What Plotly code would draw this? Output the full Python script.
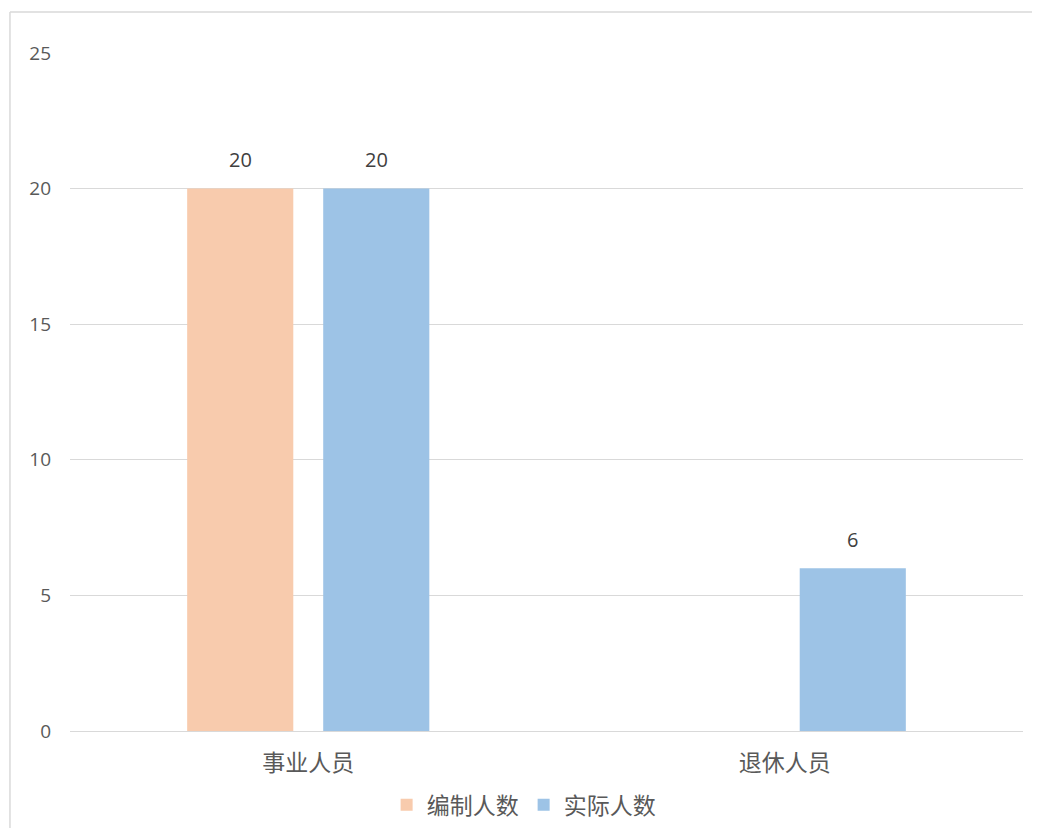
import plotly.graph_objects as go

categories = ["事业人员", "退休人员"]
series_names = ["编制人数", "实际人数"]
bianzhi = [20, None]
shiji = [20, 6]
y_ticks = [0, 5, 10, 15, 20, 25]

colors = ["#F8CBAD", "#9DC3E6"]
font_num = "Open Sans, Noto Sans, sans-serif"
font_cjk = "Noto Sans CJK SC, Noto Sans, sans-serif"

fig = go.Figure()
annotations = []
offsets = [-68, 68]
for name, vals, col, off in zip(series_names, [bianzhi, shiji], colors, offsets):
    fig.add_trace(go.Bar(
        x=categories, y=vals, name=name,
        marker=dict(color=col, line=dict(width=0)),
    ))
    for c, v in zip(categories, vals):
        if v is None:
            continue
        annotations.append(dict(x=c, y=v, xref="x", yref="y", text=str(v), showarrow=False,
                                xshift=off, yshift=29, yanchor="middle",
                                font=dict(family=font_num, size=20, color="#404040")))

border = dict(color="#D9D9D9", width=1.5)
fig.update_layout(
    width=1024, height=820,
    paper_bgcolor="white", plot_bgcolor="white",
    margin=dict(l=62, r=9, t=45, b=97, autoexpand=False),
    barmode="group", bargap=0.429, bargroupgap=0.22,
    showlegend=True,
    legend=dict(orientation="h", x=0.476, xanchor="center", y=-0.109, yanchor="middle",
                font=dict(family=font_cjk, size=23, color="#595959"),
                tracegroupgap=0),
    annotations=annotations,
    shapes=[
        dict(type="line", xref="paper", yref="paper", x0=-0.063, x1=1.2, y0=1.0605, y1=1.0605,
             line=border, layer="below"),
        dict(type="line", xref="paper", yref="paper", x0=-0.063, x1=-0.063, y0=-0.3, y1=1.0605,
             line=border, layer="below"),
    ],
)
fig.update_xaxes(showgrid=False, showline=False, ticks="", ticklabelstandoff=16, automargin=False,
                 tickfont=dict(family=font_cjk, size=23, color="#595959"))
fig.update_yaxes(range=[0, 25], tickvals=y_ticks, showgrid=True, gridcolor="#D9D9D9", gridwidth=1.3,
                 zeroline=True, zerolinecolor="#D9D9D9", zerolinewidth=1.3, showline=False, ticks="",
                 ticklabelstandoff=18, automargin=False,
                 tickfont=dict(family=font_num, size=19, color="#595959"))

fig.write_html("out.html")
